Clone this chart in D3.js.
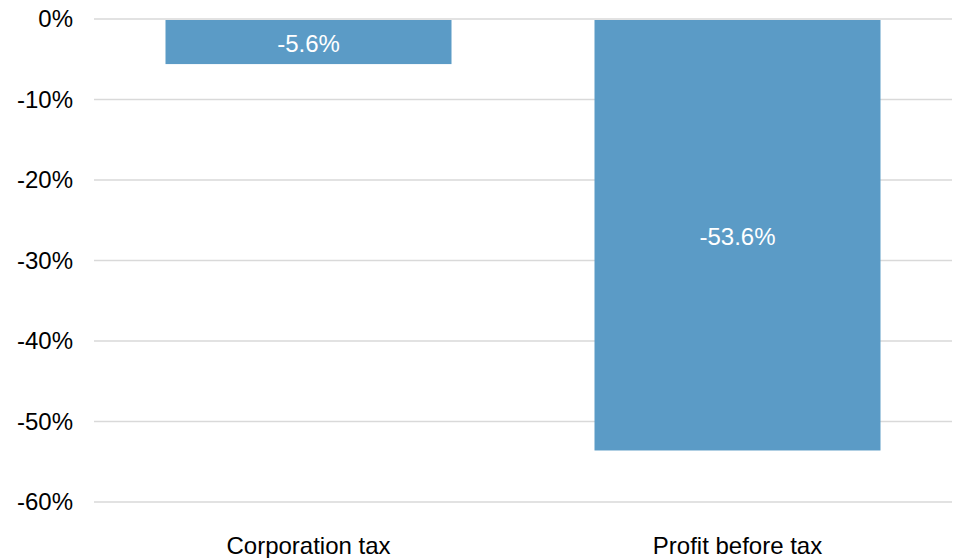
<!DOCTYPE html>
<html>
<head>
<meta charset="utf-8">
<script src="https://cdn.jsdelivr.net/npm/d3@7"></script>
<style>
  html, body { margin: 0; padding: 0; background: #fff; }
  svg text { font-family: "Liberation Sans", Arial, sans-serif; }
</style>
</head>
<body>
<svg id="chart" width="953" height="558"></svg>
<script>
const categories = ["Corporation tax", "Profit before tax"];
const values = [-5.6, -53.6];
const yTicks = [0, -10, -20, -30, -40, -50, -60];

const svg = d3.select("#chart");
const mLeft = 94, mRight = 952, mTop = 19, mBottom = 502;
const fs = 24;

const x = d3.scaleBand().domain(categories).range([mLeft, mRight])
  .paddingInner(1/3).paddingOuter(1/6);
const y = d3.scaleLinear().domain([0, -60]).range([mTop, mBottom]);

// gridlines
svg.append("g").selectAll("line").data(yTicks).join("line")
  .attr("x1", mLeft).attr("x2", mRight)
  .attr("y1", d => y(d)).attr("y2", d => y(d))
  .attr("stroke", "#d9d9d9").attr("stroke-width", 1.5);

// y axis labels
const yAxis = d3.axisLeft(y).tickValues(yTicks).tickFormat(d => d + "%").tickSize(0).tickPadding(0);
const gy = svg.append("g").attr("transform", `translate(73,0)`).call(yAxis);
gy.select(".domain").remove();
gy.selectAll("text").attr("font-size", fs).attr("fill", "#000")
  .style("font-family", '"Liberation Sans", Arial, sans-serif');

// x axis labels
const xAxis = d3.axisBottom(x).tickSize(0).tickPadding(0);
const gx = svg.append("g").attr("transform", `translate(0,537)`).call(xAxis);
gx.select(".domain").remove();
gx.selectAll("text").attr("font-size", fs).attr("fill", "#000")
  .style("font-family", '"Liberation Sans", Arial, sans-serif');

// bars
svg.append("g").selectAll("rect").data(values).join("rect")
  .attr("x", (d, i) => x(categories[i]))
  .attr("width", x.bandwidth())
  .attr("y", d => y(0) + 1)
  .attr("height", d => y(d) - y(0) - 1)
  .attr("fill", "#5b9bc6");

// data labels
svg.append("g").selectAll("text").data(values).join("text")
  .attr("x", (d, i) => x(categories[i]) + x.bandwidth() / 2)
  .attr("y", d => (y(0) + y(d)) / 2)
  .attr("dy", "0.42em")
  .attr("text-anchor", "middle")
  .attr("font-size", fs)
  .attr("fill", "#fff")
  .text(d => d.toFixed(1) + "%");
</script>
</body>
</html>
